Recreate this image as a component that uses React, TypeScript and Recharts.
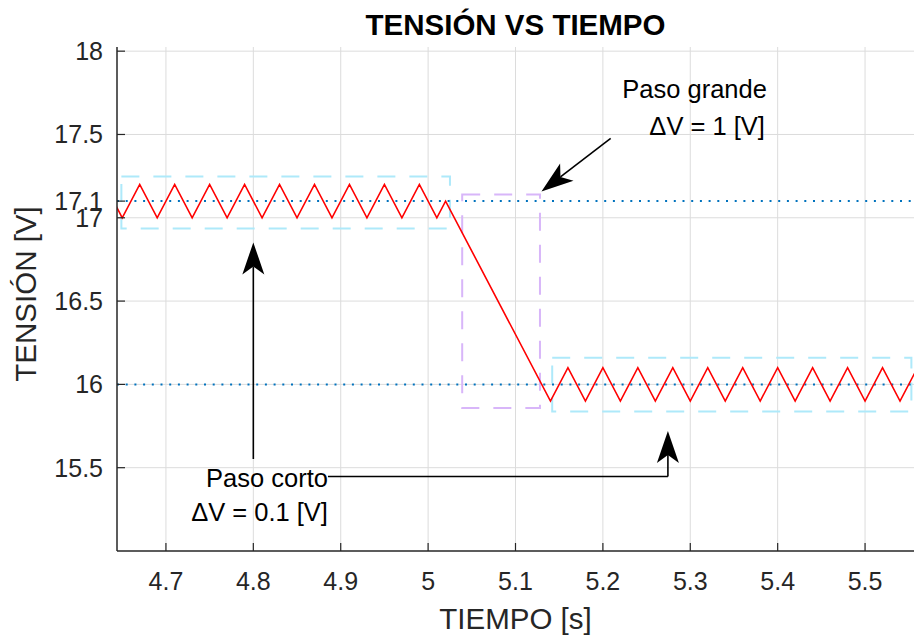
import {
  LineChart,
  Line,
  XAxis,
  YAxis,
  CartesianGrid,
  ReferenceLine,
  ReferenceArea,
  ReferenceDot,
} from 'recharts';

// tiempo [s] y tensión [V]
const tiempo = [
  4.63, 4.65, 4.67, 4.69, 4.71, 4.73, 4.75, 4.77, 4.79, 4.81,
  4.83, 4.85, 4.87, 4.89, 4.91, 4.93, 4.95, 4.97, 4.99, 5.01,
  5.02,
  5.14, 5.16, 5.18, 5.2, 5.22, 5.24, 5.26, 5.28, 5.3, 5.32,
  5.34, 5.36, 5.38, 5.4, 5.42, 5.44, 5.46, 5.48, 5.5, 5.52,
  5.54, 5.56,
];
const tension = [
  17.2, 17.0, 17.2, 17.0, 17.2, 17.0, 17.2, 17.0, 17.2, 17.0,
  17.2, 17.0, 17.2, 17.0, 17.2, 17.0, 17.2, 17.0, 17.2, 17.0,
  17.1,
  15.9, 16.1, 15.9, 16.1, 15.9, 16.1, 15.9, 16.1, 15.9, 16.1,
  15.9, 16.1, 15.9, 16.1, 15.9, 16.1, 15.9, 16.1, 15.9, 16.1,
  15.9, 16.1,
];

const xTicks = [4.7, 4.8, 4.9, 5, 5.1, 5.2, 5.3, 5.4, 5.5];
const yTicks = [15.5, 16, 16.5, 17, 17.1, 17.5, 18];
const yGrid = [15.5, 16, 16.5, 17, 17.5, 18];
const niveles = [17.1, 16];

// recuadros [x1, x2, y1, y2]
const cajasCortas = [
  [4.649, 5.025, 16.935, 17.248],
  [5.142, 5.553, 15.838, 16.16],
];
const cajaGrande = [5.039, 5.128, 15.858, 17.14];

const data = tiempo.map((t, i) => ({ t, v: tension[i] }));

const FONT = '"Liberation Sans", Arial, Helvetica, sans-serif';
const AXIS = '#262626';
const TICK_FS = 25;
const LABEL_FS = 29.5;
const NOTE_FS = 25.5;

const YTick = (props: any) => {
  const { x, y, payload } = props;
  return (
    <g>
      <line x1={x + 14} x2={x + 22} y1={y} y2={y} stroke={AXIS} strokeWidth={1.2} />
      <text x={x} y={y} textAnchor="end" dominantBaseline="central" fontSize={TICK_FS} fontFamily={FONT} fill={AXIS}>
        {payload.value}
      </text>
    </g>
  );
};

const XTick = (props: any) => {
  const { x, y, payload } = props;
  return (
    <g>
      <line x1={x} x2={x} y1={y - 18} y2={y - 26} stroke={AXIS} strokeWidth={1.2} />
      <text x={x} y={y + 12} textAnchor="middle" dominantBaseline="central" fontSize={TICK_FS} fontFamily={FONT} fill={AXIS}>
        {payload.value}
      </text>
    </g>
  );
};

const Flecha = (props: any) => {
  const { x1, y1, x2, y2 } = props;
  const len = Math.hypot(x2 - x1, y2 - y1) || 1;
  const ux = (x2 - x1) / len;
  const uy = (y2 - y1) / len;
  const nx = -uy;
  const ny = ux;
  const L = 32;
  const W = 11;
  const N = 24;
  const bx = x2 - ux * L;
  const by = y2 - uy * L;
  const mx = x2 - ux * N;
  const my = y2 - uy * N;
  return (
    <g>
      <line x1={x1} y1={y1} x2={mx} y2={my} stroke="#000" strokeWidth={1.6} />
      <path
        d={`M${x2},${y2} L${bx + nx * W},${by + ny * W} L${mx},${my} L${bx - nx * W},${by - ny * W} Z`}
        fill="#000"
      />
    </g>
  );
};

const Texto = (txt: string) => (p: any) => (
  <text x={p.cx} y={p.cy} textAnchor="end" dominantBaseline="central" fontSize={NOTE_FS} fontFamily={FONT} fill="#000">
    {txt}
  </text>
);

export default function App() {
  return (
    <div style={{ position: 'absolute', left: 0, top: 0, width: 914, height: 637, background: '#fff' }}>
      <div
        style={{
          position: 'absolute',
          left: 117,
          width: 797,
          top: 10,
          textAlign: 'center',
          fontFamily: FONT,
          fontWeight: 'bold',
          fontSize: 29.5,
          lineHeight: '29.5px',
          color: '#000',
        }}
      >
        TENSIÓN VS TIEMPO
      </div>
      <LineChart width={914} height={637} data={data} margin={{ top: 47, right: 0, bottom: 0, left: 0 }}>
        <CartesianGrid
          stroke="#dcdcdc"
          strokeWidth={1}
          horizontalValues={yGrid}
          verticalValues={xTicks}
        />
        <XAxis
          dataKey="t"
          type="number"
          domain={[4.644, 5.556]}
          allowDataOverflow
          ticks={xTicks}
          interval={0}
          height={86}
          tickSize={0}
          tickMargin={18}
          tick={<XTick />}
          axisLine={{ stroke: AXIS, strokeWidth: 1.5 }}
          tickLine={false}
          label={{
            content: (p: any) => {
              const vb = p.viewBox || { x: 117, y: 551, width: 797 };
              return (
                <text x={vb.x + vb.width / 2} y={vb.y + 67} textAnchor="middle" dominantBaseline="central" fontSize={LABEL_FS} fontFamily={FONT} fill={AXIS}>
                  TIEMPO [s]
                </text>
              );
            },
          }}
        />
        <YAxis
          type="number"
          domain={[15, 18.025]}
          allowDataOverflow
          ticks={yTicks}
          interval={0}
          width={117}
          tickSize={0}
          tickMargin={14}
          tick={<YTick />}
          axisLine={{ stroke: AXIS, strokeWidth: 1.5 }}
          tickLine={false}
          label={{
            content: (p: any) => {
              const vb = p.viewBox || { x: 0, y: 47, height: 504 };
              const cx = 25;
              const cy = vb.y + vb.height / 2 - 5;
              return (
                <text x={cx} y={cy} transform={`rotate(-90 ${cx} ${cy})`} textAnchor="middle" dominantBaseline="central" fontSize={LABEL_FS} fontFamily={FONT} fill={AXIS}>
                  TENSIÓN [V]
                </text>
              );
            },
          }}
        />
        {cajasCortas.map((c, i) => (
          <ReferenceArea
            key={`c${i}`}
            x1={c[0]}
            x2={c[1]}
            y1={c[2]}
            y2={c[3]}
            fill="none"
            fillOpacity={0}
            stroke="#aee9fa"
            strokeWidth={2}
            strokeDasharray="18 14"
          />
        ))}
        <ReferenceArea
          x1={cajaGrande[0]}
          x2={cajaGrande[1]}
          y1={cajaGrande[2]}
          y2={cajaGrande[3]}
          fill="none"
          fillOpacity={0}
          stroke="#d8b6f9"
          strokeWidth={2}
          strokeDasharray="18 14"
        />
        {niveles.map((n) => (
          <ReferenceLine key={n} y={n} stroke="#0072bd" strokeWidth={2} strokeDasharray="2 6.7" />
        ))}
        <Line
          dataKey="v"
          type="linear"
          stroke="#ff0000"
          strokeWidth={1.6}
          dot={false}
          activeDot={false}
          isAnimationActive={false}
        />
        <ReferenceLine segment={[{ x: 5.2089, y: 17.477 }, { x: 5.1297, y: 17.157 }]} shape={<Flecha />} />
        <ReferenceLine segment={[{ x: 4.8, y: 15.552 }, { x: 4.8, y: 16.852 }]} shape={<Flecha />} />
        <ReferenceLine segment={[{ x: 4.8854, y: 15.447 }, { x: 5.2744, y: 15.447 }]} stroke="#000" strokeWidth={1.6} />
        <ReferenceLine segment={[{ x: 5.2744, y: 15.447 }, { x: 5.2744, y: 15.72 }]} shape={<Flecha />} />
        <ReferenceDot x={5.3877} y={17.771} r={0} shape={Texto('Paso grande')} />
        <ReferenceDot x={5.3854} y={17.553} r={0} shape={Texto('ΔV = 1 [V]')} />
        <ReferenceDot x={4.8854} y={15.44} r={0} shape={Texto('Paso corto')} />
        <ReferenceDot x={4.8854} y={15.234} r={0} shape={Texto('ΔV = 0.1 [V]')} />
      </LineChart>
    </div>
  );
}
